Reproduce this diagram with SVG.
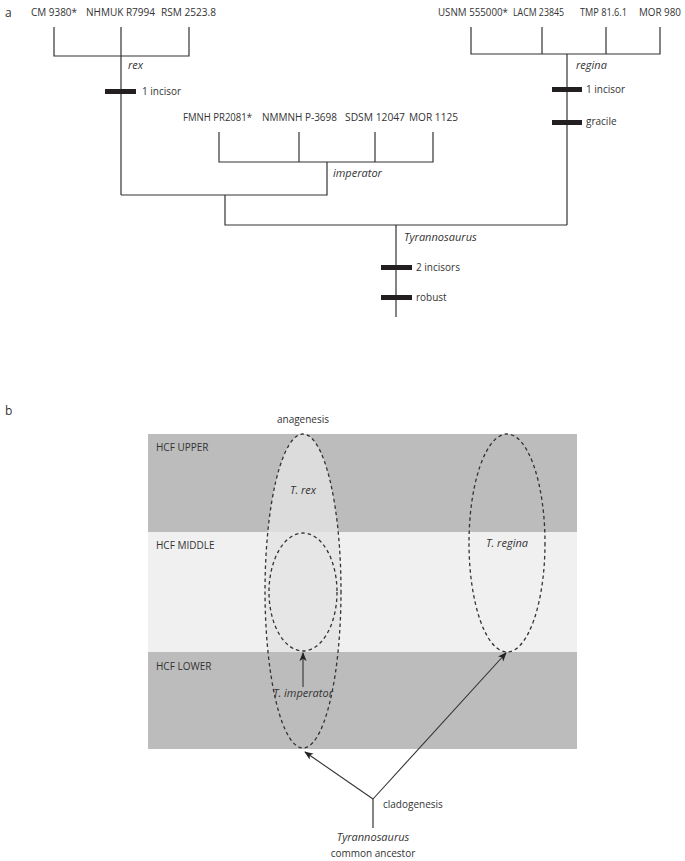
<svg xmlns="http://www.w3.org/2000/svg" width="685" height="861" viewBox="0 0 685 861">
<style>
text{font-family:"Open Sans","Liberation Sans",Arial,sans-serif;font-size:10px;fill:#333}
.it{font-style:italic;font-size:11px}
.mid{text-anchor:middle}
.ln{stroke:#333;stroke-width:1.2;fill:none}
.bar{fill:#231f20}
.dash{stroke:#333;stroke-width:1.3;fill:none;stroke-dasharray:3.5 3}
.arr{stroke:#333;stroke-width:1.1;fill:none;marker-end:url(#ah)}
</style>
<defs>
<marker id="ah" viewBox="0 0 10 10" refX="9" refY="5" markerWidth="9" markerHeight="9" markerUnits="userSpaceOnUse" orient="auto">
<path d="M0,1 L10,5 L0,9 L2.5,5 Z" fill="#222"/>
</marker>
<clipPath id="cu"><rect x="148" y="434" width="429" height="98"/></clipPath>
<clipPath id="cm"><rect x="148" y="532" width="429" height="120"/></clipPath>
</defs>
<rect width="685" height="861" fill="#fff"/>

<!-- panel a -->
<text x="5" y="17" style="font-size:12px">a</text>
<g id="connectors-a">
<path class="ln" d="M54,27 V56 H189 V27 M121,27 V195"/>
<path class="ln" d="M471,27 V54 H660 V27 M542,27 V54 M606,27 V54 M567,54 V225"/>
<path class="ln" d="M219,132 V162 H433 V132 M299,132 V162 M375,132 V162 M327,162 V195 H121"/>
<path class="ln" d="M225,195 V225 H567 M396,225 V317"/>
</g>
<g id="rex">
<text x="31" y="16" textLength="46" lengthAdjust="spacingAndGlyphs">CM 9380*</text>
<text x="86" y="16" textLength="69" lengthAdjust="spacingAndGlyphs">NHMUK R7994</text>
<text x="161" y="16" textLength="55" lengthAdjust="spacingAndGlyphs">RSM 2523.8</text>
<text class="it" x="128" y="69">rex</text>
<rect class="bar" x="105" y="89" width="31" height="5"/>
<text x="142" y="95">1 incisor</text>
</g>
<g id="regina">
<text x="438" y="16" textLength="70" lengthAdjust="spacingAndGlyphs">USNM 555000*</text>
<text x="513" y="16" textLength="51" lengthAdjust="spacingAndGlyphs">LACM 23845</text>
<text x="580" y="16" textLength="47" lengthAdjust="spacingAndGlyphs">TMP 81.6.1</text>
<text x="639" y="16" textLength="42" lengthAdjust="spacingAndGlyphs">MOR 980</text>
<text class="it" x="576" y="69">regina</text>
<rect class="bar" x="552" y="87" width="30" height="5"/>
<text x="586" y="93">1 incisor</text>
<rect class="bar" x="552" y="120" width="30" height="5"/>
<text x="586" y="125">gracile</text>
</g>
<g id="imperator">
<text x="183" y="121" textLength="69" lengthAdjust="spacingAndGlyphs">FMNH PR2081*</text>
<text x="262" y="121" textLength="75" lengthAdjust="spacingAndGlyphs">NMMNH P-3698</text>
<text x="345" y="121" textLength="60" lengthAdjust="spacingAndGlyphs">SDSM 12047</text>
<text x="409" y="121" textLength="49" lengthAdjust="spacingAndGlyphs">MOR 1125</text>
<text class="it" x="333" y="177">imperator</text>
</g>
<g id="tyrannosaurus">
<text class="it" x="404" y="241">Tyrannosaurus</text>
<rect class="bar" x="381" y="265" width="31" height="5"/>
<text x="416" y="271">2 incisors</text>
<rect class="bar" x="381" y="295" width="31" height="5"/>
<text x="416" y="301">robust</text>
</g>

<!-- panel b -->
<text x="5" y="415" style="font-size:12px">b</text>
<g id="bands">
<rect x="148" y="434" width="429" height="98" fill="#bcbcbc"/>
<rect x="148" y="532" width="429" height="120" fill="#f0f0f0"/>
<rect x="148" y="652" width="429" height="97" fill="#bcbcbc"/>
<text x="156" y="451">HCF UPPER</text>
<text x="156" y="549">HCF MIDDLE</text>
<text x="156" y="670">HCF LOWER</text>
</g>
<text class="mid" x="303" y="423">anagenesis</text>
<g id="t-rex">
<ellipse cx="303" cy="591" rx="38" ry="157" fill="#dcdcdc" clip-path="url(#cu)"/>
<ellipse cx="303" cy="591" rx="38" ry="157" fill="#e6e6e6" clip-path="url(#cm)"/>
<ellipse class="dash" cx="303" cy="591" rx="38" ry="157"/>
<text class="it mid" x="303" y="494">T. rex</text>
</g>
<g id="t-imperator-middle">
<ellipse class="dash" cx="303" cy="592" rx="34" ry="59"/>
</g>
<g id="t-imperator">
<text class="it mid" x="303" y="697">T. imperator</text>
</g>
<g id="t-regina">
<ellipse class="dash" cx="507" cy="543" rx="38" ry="109"/>
<text class="it mid" x="507" y="547">T. regina</text>
</g>
<g id="connectors-b">
<line class="arr" x1="303" y1="687" x2="303" y2="653"/>
<line class="arr" x1="373" y1="799" x2="305" y2="752"/>
<line class="arr" x1="373" y1="799" x2="506" y2="653"/>
<line class="ln" x1="373" y1="799" x2="373" y2="828"/>
</g>
<g id="ancestor">
<text x="383" y="808">cladogenesis</text>
<text class="it mid" x="373" y="841">Tyrannosaurus</text>
<text class="mid" x="373" y="857">common ancestor</text>
</g>
</svg>
